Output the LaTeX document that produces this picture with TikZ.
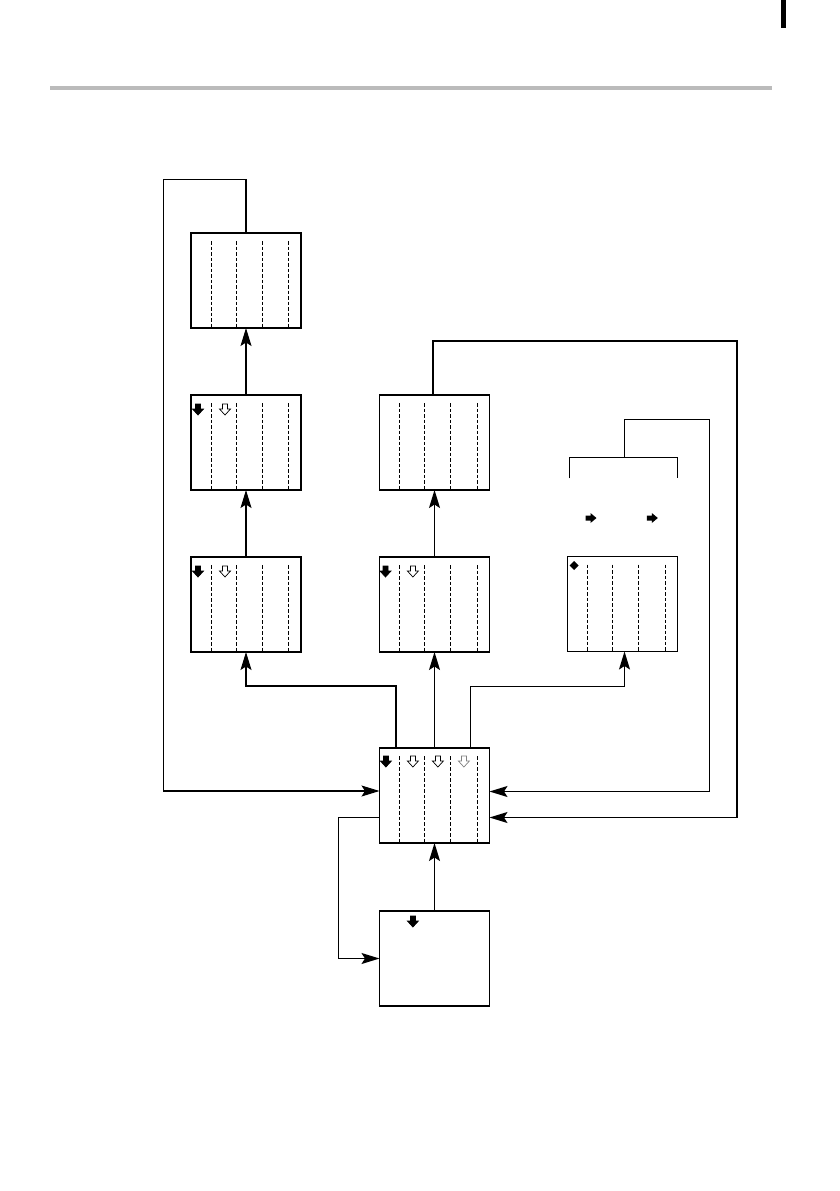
\documentclass[tikz,border=0pt]{standalone}
\usetikzlibrary{arrows.meta,calc}
\definecolor{rulegray}{RGB}{187,187,187}
\tikzset{
  box/.style={draw, line width=1.3pt, minimum width=110pt, minimum height=95pt, inner sep=0pt, outer sep=0pt},
  conn/.style={line width=1.2pt, -{Stealth[length=18pt,width=11pt,inset=3.5pt]}},
  plain/.style={line width=1.2pt},
  dsh/.style={line width=1pt, dash pattern=on 3.5pt off 2pt},
  pics/darrow/.style={code={\draw[line width=0.7pt, fill=#1, line join=miter] (-2.5,0) -- (2.5,0) -- (2.5,5) -- (5.5,5) -- (0,11) -- (-5.5,5) -- (-2.5,5) -- cycle;}},
  pics/garrow/.style={code={\draw[line width=0.7pt, draw=black!50, fill=white] (-2.5,0) -- (2.5,0) -- (2.5,5) -- (5.5,5) -- (0,11) -- (-5.5,5) -- (-2.5,5) -- cycle;}},
  pics/rarrow/.style={code={\fill (0,-2.5) -- (5,-2.5) -- (5,-5) -- (11,0) -- (5,5) -- (5,2.5) -- (0,2.5) -- cycle;}},
  pics/dmd/.style={code={\fill (0,-4.5) -- (4.5,0) -- (0,4.5) -- (-4.5,0) -- cycle;}}
}
\newcommand{\boxdashes}[1]{%
  \foreach \o in {20,45,71,97.5}{\draw[dsh] ($(#1.north west)+(\o,8)$) -- ($(#1.south west)+(\o,0)$);}}
\begin{document}
\begin{tikzpicture}[x=1pt,y=-1pt]
\useasboundingbox (0,0) rectangle (839,1191);
% page decorations
\fill[rulegray] (50,86) rectangle (772,90);
\fill (781,0) rectangle (786,28);

% boxes
\node[box] (A) at (246,280.5) {};
\node[box] (B) at (246,442.5) {};
\node[box] (C) at (246,604.5) {};
\node[box] (D) at (434.5,442.5) {};
\node[box] (E) at (434.5,604.5) {};
\node[box] (G) at (622.5,604) {};
\node[box] (F) at (434.5,795.5) {};
\node[box] (H) at (434.5,958.5) {};

\boxdashes{A}\boxdashes{B}\boxdashes{C}\boxdashes{D}
\boxdashes{E}\boxdashes{G}\boxdashes{F}

% icons
\pic at ($(B.north west)+(7,9)$) {darrow=black};
\pic at ($(B.north west)+(34,9)$) {darrow=white};
\pic at ($(C.north west)+(7,9)$) {darrow=black};
\pic at ($(C.north west)+(34,9)$) {darrow=white};
\pic at ($(E.north west)+(6,9)$) {darrow=black};
\pic at ($(E.north west)+(33.4,9)$) {darrow=white};
\pic at ($(F.north west)+(6.4,8)$) {darrow=black};
\pic at ($(F.north west)+(33.4,8)$) {darrow=white};
\pic at ($(F.north west)+(58.4,8)$) {darrow=white};
\pic at ($(F.north west)+(84.4,8)$) {garrow};
\pic at ($(H.north west)+(33.4,5)$) {darrow=black};
\pic at ($(G.north west)+(6.6,9)$) {dmd};
\pic at (585.5,518) {rarrow};
\pic at (646.8,518) {rarrow};

% vertical connectors
\draw[conn] (B.north) -- (A.south);
\draw[conn] (C.north) -- (B.south);
\draw[conn] (E.north) -- (D.south);
\draw[conn] (F.north) -- (E.south);
\draw[conn] (H.north) -- (F.south);

% branches from F
\draw[conn] ($(F.north west)+(16.4,0)$) |- ($(C.south)+(0,34)$) -- (C.south);
\draw[conn] ($(F.north east)+(-19,0)$) |- ($(G.south)+(2,35)$) -- ($(G.south)+(2,0)$);

% loop from A
\coordinate (lt) at (163.3,179.3);
\draw[conn] (A.north) |- (lt) |- ($(F.west)+(0,-4.5)$);

% loop from D
\coordinate (rt) at (737,341);
\draw[conn] ($(D.north)+(-1.5,0)$) |- (rt) |- ($(F.east)+(0,22)$);

% bracket
\coordinate (bl) at (569.3,478.3);
\coordinate (br) at (677.3,478.3);
\coordinate (bm) at (624.3,457.3);
\coordinate (bt) at (709.3,419.3);
\draw[plain] (bl) |- (bm) -| (br);
\draw[conn] (bm) |- (bt) |- ($(F.east)+(0,-4)$);

% loop from F to H
\coordinate (lb) at (338.3,958.5);
\draw[conn] ($(F.west)+(0,22)$) -| (lb) -- (H.west);
\end{tikzpicture}
\end{document}
